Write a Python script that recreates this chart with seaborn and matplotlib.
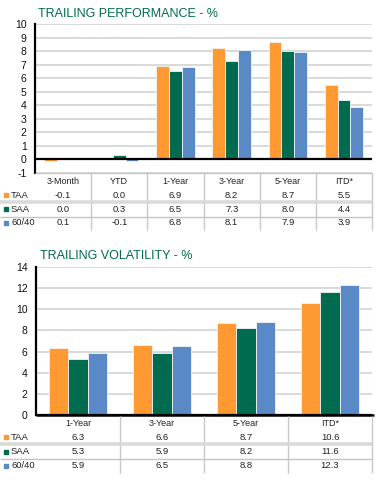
import matplotlib
matplotlib.use("Agg")
import matplotlib.pyplot as plt
import seaborn as sns
import pandas as pd
from matplotlib.lines import Line2D
from matplotlib.patches import Rectangle

# ---------------- data ----------------
series = ["TAA", "SAA", "60/40"]
perf_periods = ["3-Month", "YTD", "1-Year", "3-Year", "5-Year", "ITD*"]
perf_taa = [-0.1, 0.0, 6.9, 8.2, 8.7, 5.5]
perf_saa = [0.0, 0.3, 6.5, 7.3, 8.0, 4.4]
perf_6040 = [0.1, -0.1, 6.8, 8.1, 7.9, 3.9]

vol_periods = ["1-Year", "3-Year", "5-Year", "ITD*"]
vol_taa = [6.3, 6.6, 8.7, 10.6]
vol_saa = [5.3, 5.9, 8.2, 11.6]
vol_6040 = [5.9, 6.5, 8.8, 12.3]

perf_ticks = list(range(-1, 11))
vol_ticks = list(range(0, 15, 2))

colors = ["#FF9A33", "#006B4F", "#5A89C8"]
title_color = "#006B4F"

sns.set_theme(style="white")
plt.rcParams["font.family"] = ["Liberation Sans", "DejaVu Sans"]
plt.rcParams["axes.unicode_minus"] = False

W, H = 384, 493
fig = plt.figure(figsize=(W / 100, H / 100), dpi=100)


def fx(x):
    return x / W


def fy(y):
    return 1 - y / H


def hline(x0, x1, y, color, lw):
    fig.add_artist(Line2D([fx(x0), fx(x1)], [fy(y), fy(y)], color=color, lw=lw,
                          transform=fig.transFigure, solid_capstyle="butt"))


def vline(x, y0, y1, color, lw):
    fig.add_artist(Line2D([fx(x), fx(x)], [fy(y0), fy(y1)], color=color, lw=lw,
                          transform=fig.transFigure, solid_capstyle="butt"))


def make_chart(periods, vals, ticks, box, title, title_xy):
    left, right, top, bottom = box
    ax = fig.add_axes([fx(left), fy(bottom), (right - left) / W, (bottom - top) / H])
    df = pd.DataFrame({
        "period": periods * 3,
        "series": [s for s in series for _ in periods],
        "value": vals[0] + vals[1] + vals[2],
    })
    sns.barplot(data=df, x="period", y="value", hue="series", order=periods,
                hue_order=series, palette=colors, saturation=1, width=0.68,
                edgecolor="#F4F4F4", linewidth=0.6, ax=ax, legend=False, zorder=3)
    ax.set_ylim(ticks[0], ticks[-1])
    ax.set_xlim(-0.5, len(periods) - 0.5)
    ax.set_yticks(ticks)
    ax.yaxis.grid(True, color="#D9D9D9", lw=1.4, zorder=0)
    ax.set_axisbelow(True)
    ax.set_xticks([])
    ax.set_xlabel("")
    ax.set_ylabel("")
    for s in ["top", "right", "bottom"]:
        ax.spines[s].set_visible(False)
    ax.spines["left"].set_color("black")
    ax.spines["left"].set_linewidth(1.6)
    ax.tick_params(axis="y", length=0, pad=6, labelsize=7.5, labelcolor="#111111")
    ax.axhline(0, color="black", lw=1.6, zorder=4)
    fig.text(fx(title_xy[0]), fy(title_xy[1]), title, color=title_color,
             fontsize=9, ha="left", va="center")
    return ax


def make_table(periods, vals, left, right, top, header_y, row_ys, sep_thick, sep_thin, bottom):
    n = len(periods)
    cw = (right - left) / n
    for i in range(1, n + 1):
        vline(left + i * cw, top, bottom, "#C8C8C8", 1.0)
    hline(0, right, sep_thick, "#DADADA", 2.6)
    hline(0, right, sep_thin, "#C4C4C4", 1.0)
    for i, p in enumerate(periods):
        fig.text(fx(left + (i + 0.5) * cw), fy(header_y), p, fontsize=6.5,
                 ha="center", va="center", color="#222222")
    for r, (name, col, yv) in enumerate(zip(series, colors, row_ys)):
        fig.add_artist(Rectangle((fx(4), fy(yv + 2)), 4 / W, 4 / H, color=col,
                                 transform=fig.transFigure))
        fig.text(fx(11), fy(yv), name, fontsize=6.8, ha="left", va="center",
                 color="#222222")
        for i, v in enumerate(vals[r]):
            fig.text(fx(left + (i + 0.5) * cw), fy(yv), f"{v:.1f}", fontsize=6.8,
                     ha="center", va="center", color="#222222")


# ---- top chart: performance ----
make_chart(perf_periods, [perf_taa, perf_saa, perf_6040], perf_ticks,
           (35, 372, 24, 173), "TRAILING PERFORMANCE - %", (38, 14))
hline(35, 372, 173, "#C8C8C8", 1.0)
make_table(perf_periods, [perf_taa, perf_saa, perf_6040], 35, 372, 173, 181,
           [195, 209, 223], 202, 217, 230)

# ---- bottom chart: volatility ----
make_chart(vol_periods, [vol_taa, vol_saa, vol_6040], vol_ticks,
           (36, 372, 267, 415), "TRAILING VOLATILITY - %", (40, 256))
hline(36, 374, 415, "black", 1.8)
make_table(vol_periods, [vol_taa, vol_saa, vol_6040], 36, 372, 416, 423,
           [437, 452, 466], 444, 459, 473)

fig.savefig("out.png", dpi=100, facecolor="white")
